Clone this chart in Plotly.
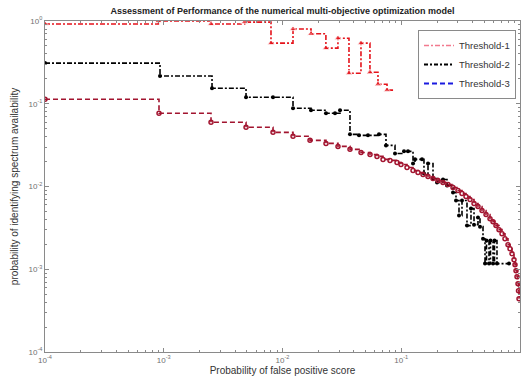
import plotly.graph_objects as go

# ---------------- data ----------------
t1_x = [0.0001, 0.0009, 0.0025, 0.0048, 0.0080, 0.01226, 0.0174, 0.0232, 0.0293, 0.0363,
        0.0458, 0.0545, 0.0637, 0.0759, 0.0853]
t1_y = [0.92, 1.0, 0.92, 0.97, 0.54, 0.80, 0.70, 0.47, 0.62, 0.234,
        0.54, 0.24, 0.172, 0.146, 0.146]

t2_x = [0.0001, 0.00093, 0.00255, 0.00493, 0.00832, 0.01226, 0.01738, 0.02324, 0.02767, 0.0305,
        0.03701, 0.04407, 0.05248, 0.06495, 0.07438, 0.0886, 0.1055, 0.1140, 0.1256, 0.1305,
        0.1495, 0.1554, 0.1680, 0.1851, 0.2000, 0.2246, 0.2428, 0.2728, 0.2891, 0.3064,
        0.3248, 0.3578, 0.3866, 0.4100, 0.4428, 0.4604, 0.4880, 0.5073, 0.5223, 0.5482,
        0.5645, 0.5925, 0.6098, 0.6400, 0.8079]
t2_y = [0.310, 0.216, 0.154, 0.120, 0.120, 0.0882, 0.0834, 0.0767, 0.0767, 0.0834,
        0.0427, 0.0415, 0.0415, 0.0427, 0.0314, 0.0251, 0.0266, 0.0266, 0.0190, 0.0213,
        0.0213, 0.01438, 0.0190, 0.0125, 0.01118, 0.01216, 0.01028, 0.00846, 0.00677, 0.00445,
        0.00677, 0.00337, 0.00541, 0.00346, 0.00421, 0.00327, 0.00234, 0.00117, 0.00222, 0.00117,
        0.00222, 0.00117, 0.00222, 0.00117, 0.00117]

t3_x = [0.0001, 0.000912, 0.0025, 0.00493, 0.00832, 0.01226, 0.01704, 0.02324, 0.02933, 0.03701,
        0.04583, 0.05459, 0.06248, 0.07021, 0.08039, 0.0921, 0.0995, 0.1118, 0.1256, 0.1384,
        0.1525, 0.1680, 0.1851, 0.2039, 0.2246, 0.2475, 0.2728, 0.3005, 0.3248, 0.3510,
        0.3793, 0.4100, 0.4428, 0.4786, 0.5173, 0.5589, 0.5925, 0.6277, 0.6655, 0.7054,
        0.7474, 0.7923, 0.8238, 0.8561, 0.8903, 0.9077, 0.9254, 0.9434, 0.9620, 0.9714,
        0.9808]
t3_y = [0.1134, 0.0767, 0.0597, 0.0519, 0.0451, 0.0404, 0.0361, 0.0332, 0.0305, 0.0281,
        0.0258, 0.0244, 0.0231, 0.02125, 0.02066, 0.01954, 0.01848, 0.0170, 0.01563, 0.01478,
        0.01398, 0.01322, 0.0125, 0.01182, 0.01118, 0.01057, 0.00973, 0.00894, 0.00823, 0.00756,
        0.00696, 0.00622, 0.00572, 0.00512, 0.00458, 0.00409, 0.00376, 0.00337, 0.00301, 0.00269,
        0.00234, 0.00198, 0.00177, 0.00154, 0.0013, 0.00113, 0.00096, 0.00081, 0.00067, 0.00055,
        0.00044]

series_names = ["Threshold-1", "Threshold-2", "Threshold-3"]
major_ticks = [1e-4, 1e-3, 1e-2, 1e-1, 1]
major_text = ["10<sup>-4</sup>", "10<sup>-3</sup>", "10<sup>-2</sup>", "10<sup>-1</sup>", "10<sup>0</sup>"]
minor_ticks = [m * 10.0 ** e for e in range(-4, 0) for m in range(2, 10)]

FONT = "Liberation Sans, Arial, sans-serif"
RED = "#E5131B"
BLACK = "#000000"
CRIMSON = "#A2142F"

fig = go.Figure()

t1_sizes = [6.5] * (len(t1_x) - 1) + [0]
fig.add_trace(go.Scatter(
    x=t1_x, y=t1_y, mode="lines+markers", line_shape="hv", showlegend=False,
    line=dict(color=RED, width=1.6, dash="5px,2px,2px,2px"),
    marker=dict(symbol="triangle-up", size=t1_sizes, color=RED)))

fig.add_trace(go.Scatter(
    x=t2_x, y=t2_y, mode="lines+markers", line_shape="hv", showlegend=False,
    line=dict(color=BLACK, width=1.6, dash="5px,2px,2px,2px"),
    marker=dict(symbol="circle", size=4, color=BLACK)))

fig.add_trace(go.Scatter(
    x=t3_x, y=t3_y, mode="lines+markers", line_shape="hv", showlegend=False,
    line=dict(color=CRIMSON, width=1.6, dash="5px,3px"),
    marker=dict(symbol="circle-open", size=4, color=CRIMSON, line=dict(width=1.5, color=CRIMSON))))

# legend entries (legend styling differs from plotted lines, as in the reference)
legend_styles = [
    dict(color="#F27A8E", width=1.3, dash="5px,2px,2px,2px"),
    dict(color=BLACK, width=2, dash="4px,2px,2px,2px"),
    dict(color="#1A1AE0", width=2, dash="5px,3px"),
]
for name, ls in zip(series_names, legend_styles):
    fig.add_trace(go.Scatter(x=[None], y=[None], mode="lines", name=name, line=ls))

axis_common = dict(
    type="log", range=[-4, 0], showgrid=False, zeroline=False,
    showline=True, linecolor="#8a8a8a", linewidth=1, mirror="allticks",
    ticks="inside", ticklen=4, tickcolor="#8a8a8a",
    tickmode="array", tickvals=major_ticks, ticktext=major_text,
    tickfont=dict(family=FONT, size=8, color="#707070"),
    minor=dict(tickmode="array", tickvals=minor_ticks, ticks="inside", ticklen=2,
               tickcolor="#8a8a8a", showgrid=False),
)

fig.update_xaxes(**axis_common,
                 title=dict(text="Probability of false positive score", standoff=0,
                            font=dict(family=FONT, size=10, color="#333333")))
fig.update_yaxes(**axis_common,
                 title=dict(text="probability of identifying spectrum availability", standoff=8,
                            font=dict(family=FONT, size=10, color="#333333")))

fig.update_layout(
    width=524, height=380,
    margin=dict(l=45, r=4, t=21, b=28, autoexpand=False),
    paper_bgcolor="white", plot_bgcolor="white",
    title=dict(text="<b>Assessment of Performance of the numerical multi-objective optimization model</b>",
               x=282.5 / 524, xanchor="center", y=1 - 11 / 380, yanchor="middle",
               font=dict(family=FONT, size=9, color="#222222")),
    legend=dict(x=(418 - 45) / 475, xanchor="left", y=(352 - 30) / 331, yanchor="top",
                bgcolor="white", bordercolor="#8a8a8a", borderwidth=1,
                font=dict(family=FONT, size=9.5, color="#333333"),
                itemwidth=30, tracegroupgap=0),
    font=dict(family=FONT),
)

fig.write_html("out.html", config={"displayModeBar": False},
               post_script="document.body.style.margin='0px';")
